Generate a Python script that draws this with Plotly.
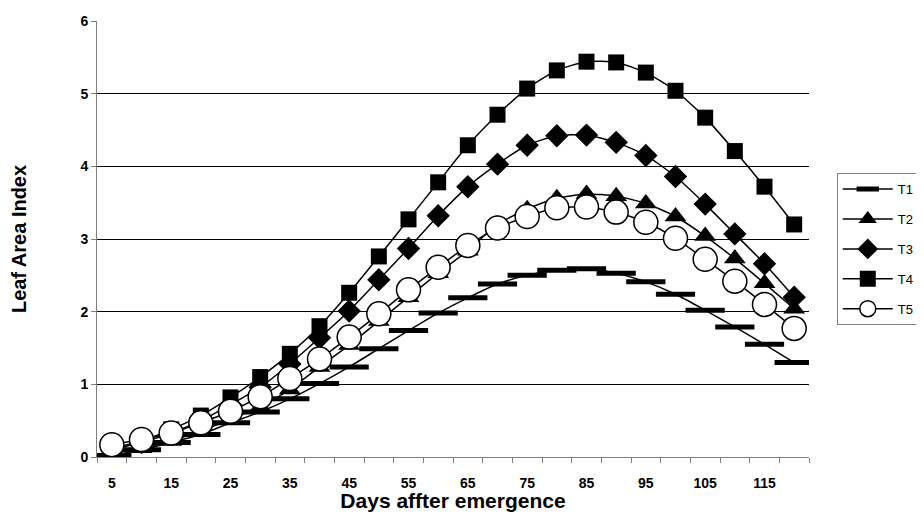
import plotly.graph_objects as go

days = [5, 10, 15, 20, 25, 30, 35, 40, 45, 50, 55, 60, 65, 70, 75, 80, 85, 90, 95, 100, 105, 110, 115, 120]
t1 = [0.02, 0.10, 0.20, 0.31, 0.47, 0.62, 0.80, 1.01, 1.24, 1.49, 1.74, 1.98, 2.19, 2.38, 2.50, 2.57, 2.59, 2.53, 2.41, 2.24, 2.02, 1.79, 1.55, 1.30]
t2 = [0.05, 0.12, 0.22, 0.36, 0.52, 0.69, 0.93, 1.24, 1.54, 1.87, 2.20, 2.53, 2.84, 3.20, 3.41, 3.56, 3.62, 3.59, 3.49, 3.31, 3.04, 2.73, 2.39, 2.04]
t3 = [0.10, 0.20, 0.33, 0.50, 0.72, 0.96, 1.28, 1.64, 2.01, 2.44, 2.87, 3.32, 3.72, 4.03, 4.29, 4.42, 4.43, 4.33, 4.15, 3.86, 3.48, 3.07, 2.66, 2.20]
t4 = [0.12, 0.22, 0.38, 0.57, 0.82, 1.10, 1.42, 1.80, 2.26, 2.76, 3.27, 3.78, 4.29, 4.71, 5.07, 5.32, 5.44, 5.43, 5.29, 5.04, 4.67, 4.21, 3.72, 3.20]
t5 = [0.17, 0.24, 0.33, 0.47, 0.63, 0.83, 1.08, 1.35, 1.65, 1.97, 2.30, 2.61, 2.91, 3.15, 3.31, 3.43, 3.44, 3.37, 3.23, 3.01, 2.72, 2.42, 2.10, 1.77]
names = ["T1", "T2", "T3", "T4", "T5"]
xtick_labels = ["5", "15", "25", "35", "45", "55", "65", "75", "85", "95", "105", "115"]
xtick_vals = [5, 15, 25, 35, 45, 55, 65, 75, 85, 95, 105, 115]

series = [t1, t2, t3, t4, t5]
styles = [
    dict(symbol="line-ew", size=28, color="black", line=dict(width=5, color="black")),
    dict(symbol="triangle-up", size=19, color="black", line=dict(width=0)),
    dict(symbol="diamond", size=18, color="black", line=dict(width=0)),
    dict(symbol="square", size=16, color="black", line=dict(width=0)),
    dict(symbol="circle", size=24, color="white", line=dict(width=1.5, color="black")),
]

fig = go.Figure()
for nm, ys, mk in zip(names, series, styles):
    fig.add_trace(go.Scatter(
        x=days, y=ys, name=nm, mode="lines+markers",
        line=dict(color="black", width=1.5, shape="spline", smoothing=0.6),
        marker=mk, legendgroup=nm,
    ))

font = "Liberation Sans, Arial, sans-serif"
# page body has an 8px default margin, so the figure is sized 916x504
fig.update_layout(
    width=916, height=504,
    margin=dict(l=89, r=115, t=13, b=55, autoexpand=False),
    paper_bgcolor="white", plot_bgcolor="white",
    font=dict(family=font, color="black"),
    showlegend=True,
    legend=dict(
        x=1.039, y=0.651, xanchor="left", yanchor="top",
        bordercolor="#808080", borderwidth=1,
        font=dict(family=font, size=13, color="black"),
        traceorder="grouped", tracegroupgap=10,
        itemwidth=50,
    ),
    xaxis=dict(
        range=[2.5, 122.5],
        tickvals=xtick_vals, ticktext=xtick_labels,
        ticks="outside", ticklen=13, tickcolor="rgba(0,0,0,0)",
        showgrid=False, zeroline=False,
        showline=True, linecolor="#808080", linewidth=1,
        tickfont=dict(family=font, size=14, color="black", weight="bold"),
        minor=dict(tick0=2.5, dtick=5, ticks="outside", ticklen=5, tickcolor="#808080", showgrid=False),
        title=dict(text="Days affter emergence", font=dict(family=font, size=21, color="black", weight="bold"), standoff=0),
        automargin=False,
    ),
    yaxis=dict(
        range=[0, 6], dtick=1, tick0=0,
        ticks="outside", ticklen=5, tickcolor="#808080",
        showgrid=True, gridcolor="black", gridwidth=1,
        zeroline=False, showline=True, linecolor="#808080", linewidth=1,
        tickfont=dict(family=font, size=14, color="black", weight="bold"),
        title=dict(text="Leaf Area Index", font=dict(family=font, size=20, color="black", weight="bold"), standoff=49),
        automargin=False,
    ),
)

fig.write_html("out.html")
